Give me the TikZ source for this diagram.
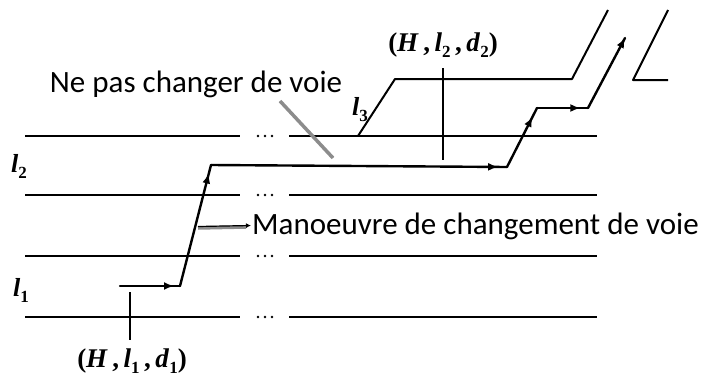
\documentclass[tikz,border=0pt]{standalone}
\usepackage{fontspec}
\setmainfont{Carlito}
\newfontfamily\lblfont{Liberation Serif}
\usetikzlibrary{decorations.markings,arrows.meta}
\newcommand\lowsub[1]{\raisebox{-6pt}{\fontsize{17}{17}\selectfont #1}}
\tikzset{
  lane/.style={line width=2pt},
  route/.style={line width=2.4pt, line cap=round, line join=round},
  tick/.style={line width=1.3pt},
  marr/.style={postaction={decorate},decoration={markings,mark=at position #1 with {\arrow{Latex[length=10pt,width=8pt]}}}},
  leader/.style={line width=3.5pt, black!45},
  frtext/.style={font=\fontsize{31}{33}\selectfont, inner sep=0pt},
  mlabel/.style={font=\lblfont\bfseries\fontsize{27}{29}\selectfont, inner sep=0pt},
  llabel/.style={font=\lblfont\bfseries\fontsize{26}{28}\selectfont, inner sep=0pt},
}
\begin{document}
\begin{tikzpicture}[x=1pt,y=-1pt]
\useasboundingbox (0,0) rectangle (704,380);
% lanes
\foreach \yy in {136,195,256,317}{
  \draw[lane] (25,\yy) -- (240,\yy);
  \draw[lane] (289,\yy) -- (597,\yy);
  \foreach \xx in {258,265,272} \fill (\xx,\yy) circle (1.4);
}
% upper lane l3
\coordinate (u0) at (358,136);
\coordinate (u1) at (395,79);
\coordinate (u2) at (572,79);
\coordinate (u3) at (608,10);
\draw[lane, line join=round] (u0) -- (u1) -- (u2) -- (u3);
\coordinate (v0) at (668,10);
\coordinate (v1) at (633,80);
\coordinate (v2) at (668,80);
\draw[lane, line join=round] (v0) -- (v1) -- (v2);
% ticks
\coordinate (t1a) at (443,68); \coordinate (t1b) at (443,160);
\draw[tick] (t1a) -- (t1b);
\coordinate (t2a) at (130,292); \coordinate (t2b) at (130,340);
\draw[tick] (t2a) -- (t2b);
% route
\coordinate (p0) at (120,286);
\coordinate (p1) at (180,286);
\coordinate (p2) at (211,165);
\coordinate (p3) at (507,167);
\coordinate (p4) at (537,108);
\coordinate (p5) at (588,108);
\coordinate (p6) at (625,38);
\draw[route, marr=0.9] (p0) -- (p1);
\draw[route, marr=0.93] (p1) -- (p2);
\draw[route, marr=0.97] (p2) -- (p3);
\draw[route, marr=0.85] (p3) -- (p4);
\draw[route, marr=0.85] (p4) -- (p5);
\draw[route, marr=1] (p5) -- (p6);
% labels
\node[llabel] (l2) at (19,166) {\textit{l}\lowsub{2}};
\node[llabel] (l1) at (21,290) {\textit{l}\lowsub{1}};
\node[llabel] (l3) at (360,110) {\textit{l}\lowsub{3}};
\node[mlabel] (h2) at (443,45) {(\textit{H}\,,\,\textit{l}\lowsub{2}\,,\,\textit{d}\lowsub{2})};
\node[mlabel] (h1) at (132,361) {(\textit{H}\,,\,\textit{l}\lowsub{1}\,,\,\textit{d}\lowsub{1})};
\node[frtext] (np) at (196,84) {Ne pas changer de voie};
\node[frtext, anchor=west] (mn) at (252,226) {Manoeuvre de changement de voie};
% leaders
\coordinate (g1a) at (280,101); \coordinate (g1b) at (333,158);
\draw[leader] (g1a) -- (g1b);
\coordinate (g2a) at (198,228);
\draw[leader] (g2a) -- ([xshift=-6pt,yshift=-1pt]mn.west);
\draw[-{Latex[length=5pt,width=5pt]}, line width=1.2pt] ([yshift=1.5pt]g2a) -- ([xshift=-1pt,yshift=0.5pt]mn.west);
\end{tikzpicture}
\end{document}
